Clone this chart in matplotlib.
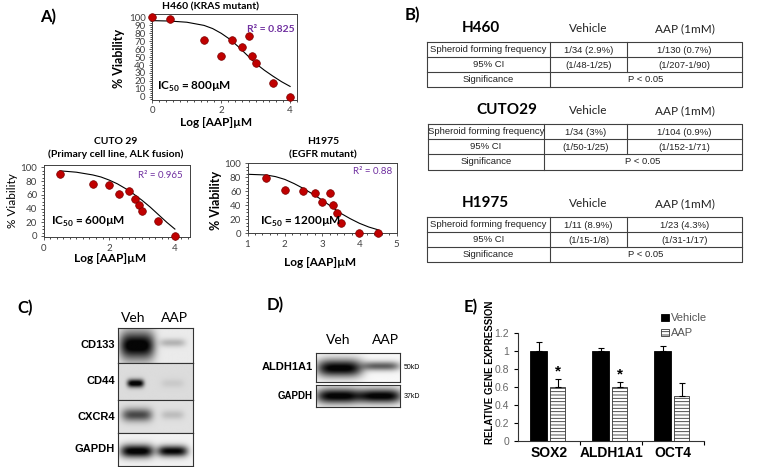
import numpy as np
import matplotlib.pyplot as plt
from matplotlib.ticker import MultipleLocator

plt.rcParams['font.family'] = ['Lato', 'DejaVu Sans']
plt.rcParams['mathtext.fontset'] = 'custom'
plt.rcParams['mathtext.rm'] = 'Lato'
plt.rcParams['mathtext.bf'] = 'Lato:bold'
plt.rcParams['hatch.linewidth'] = 0.6

W, H = 760, 467

# ---- A) dose response data (log[AAP] uM vs % viability)
h460_x = [0, 0.5, 1.5, 2, 2.3, 2.6, 2.8, 2.9, 3, 3.5, 4]
h460_y = [100, 98, 72, 52, 72, 63, 76, 52, 42, 17, 0]
h460_fit_x = [0, 0.5, 1, 1.5, 1.75, 2, 2.25, 2.5, 2.75, 3, 3.25, 3.5, 3.75, 4]
h460_fit_y = [96, 95.5, 94, 90, 86, 80, 72.5, 63, 52.5, 42, 33.5, 26, 19, 13]

cuto_x = [0.5, 1.5, 2, 2.3, 2.6, 2.8, 2.9, 3, 3.5, 4]
cuto_y = [91, 76, 74, 61, 65, 54, 45, 37, 22, 0]
cuto_fit_x = [0.5, 1, 1.5, 1.75, 2, 2.25, 2.5, 2.75, 3, 3.25, 3.5, 3.75, 4]
cuto_fit_y = [95, 93, 89, 86, 81.5, 76, 69, 61, 52, 42, 31, 20, 10]

h1975_x = [1.5, 2, 2.5, 2.8, 3, 3.2, 3.3, 3.4, 3.5, 4, 4.5]
h1975_y = [79, 62, 61, 57, 45, 57, 41, 29, 15, 1, 0]
h1975_fit_x = [1, 1.5, 1.75, 2, 2.25, 2.5, 2.75, 3, 3.25, 3.5, 3.75, 4, 4.25, 4.5]
h1975_fit_y = [84.3, 83.3, 81, 77, 71, 64, 56, 47.6, 38, 28.6, 21, 14.3, 9, 5]

# ---- B) spheroid tables
cell_lines = ["H460", "CUTO29", "H1975"]
vehicle_freq = ["1/34 (2.9%)", "1/34 (3%)", "1/11 (8.9%)"]
aap_freq = ["1/130 (0.7%)", "1/104 (0.9%)", "1/23 (4.3%)"]
vehicle_ci = ["(1/48-1/25)", "(1/50-1/25)", "(1/15-1/8)"]
aap_ci = ["(1/207-1/90)", "(1/152-1/71)", "(1/31-1/17)"]
p_values = ["P < 0.05", "P < 0.05", "P < 0.05"]

# ---- C), D) western blot band intensities (0 = none, 1 = saturated)
c_markers = ["CD133", "CD44", "CXCR4", "GAPDH"]
c_veh = [1.0, 0.95, 0.6, 1.0]
c_aap = [0.22, 0.07, 0.14, 0.95]
d_markers = ["ALDH1A1", "GAPDH"]
d_veh = [1.0, 1.0]
d_aap = [0.6, 1.0]
d_sizes = ["50kD", "37kD"]

# ---- E) qPCR
e_genes = ["SOX2", "ALDH1A1", "OCT4"]
e_vehicle = [1.0, 1.0, 1.0]
e_vehicle_err = [0.1, 0.03, 0.05]
e_aap = [0.6, 0.6, 0.5]
e_aap_err = [0.09, 0.05, 0.14]
e_sig = ["*", "*", ""]


def px_rect(x0, y0, x1, y1):
    return [x0 / W, 1 - y1 / H, (x1 - x0) / W, (y1 - y0) / H]


fig = plt.figure(figsize=(7.6, 4.67), dpi=100)
ov = fig.add_axes([0, 0, 1, 1])
ov.set_xlim(0, W)
ov.set_ylim(H, 0)
ov.axis('off')
ov.set_zorder(10)

# panel letters
for lab, (x, y) in zip(["A)", "B)", "C)", "D)", "E)"],
                       [(48, 17), (412, 15), (25, 308), (275, 305), (471, 307)]):
    ov.text(x, y, lab, fontsize=12, fontweight='bold', ha='center', va='center')


def dose_plot(rect, xs, ys, fx, fy, xlim, ylim, xmaj, ymaj, ymin):
    ax = fig.add_axes(px_rect(*rect))
    ax.plot(fx, fy, color='black', lw=0.8, zorder=2)
    ax.plot(xs, ys, 'o', color='#C00000', mec='#7a0000', mew=0.5, ms=5.5,
            zorder=3, clip_on=False)
    ax.set_xlim(*xlim)
    ax.set_ylim(*ylim)
    ax.xaxis.set_major_locator(MultipleLocator(xmaj))
    ax.yaxis.set_major_locator(MultipleLocator(ymaj))
    ax.xaxis.set_minor_locator(MultipleLocator(0.2))
    ax.yaxis.set_minor_locator(MultipleLocator(ymin))
    ax.tick_params(labelsize=7, colors='#404040', length=2.5, width=0.6, pad=2)
    ax.tick_params(which='minor', length=1.5, width=0.5)
    for s in ax.spines.values():
        s.set_color('#404040')
        s.set_linewidth(0.7)
    return ax


axA1 = dose_plot((151.7, 14.3, 297, 99.9), h460_x, h460_y, h460_fit_x, h460_fit_y,
                 (-0.02, 4.2), (-4, 104), 2, 10, 2.5)
axA1.set_yticks(range(0, 101, 10))
axA2 = dose_plot((43.5, 165, 190, 237.3), cuto_x, cuto_y, cuto_fit_x, cuto_fit_y,
                 (0, 4.46), (-2, 103.5), 2, 20, 5)
axA3 = dose_plot((247.5, 163.3, 396.7, 233.3), h1975_x, h1975_y, h1975_fit_x, h1975_fit_y,
                 (1, 5), (0, 100), 1, 20, 5)

purple = '#7030A0'
ov.text(210, 7, "H460 (KRAS mutant)", fontsize=7.5, fontweight='bold', ha='center', va='center')
ov.text(119, 58, "% Viability", fontsize=9, fontweight='bold', rotation=90, ha='center', va='center')
ov.text(216, 123, "Log [AAP]µM", fontsize=8.5, fontweight='bold', ha='center', va='center')
ov.text(295, 30, "R² = 0.825", fontsize=7.5, fontweight='bold', color=purple, ha='right', va='center')
ov.text(157, 87, r"IC$_{\mathbf{50}}$ = 800µM", fontsize=8.5, fontweight='bold', ha='left', va='center')

ov.text(116, 141, "CUTO 29", fontsize=7.5, fontweight='bold', ha='center', va='center')
ov.text(116, 154, "(Primary cell line, ALK fusion)", fontsize=7.5, fontweight='bold', ha='center', va='center')
ov.text(12, 201, "% Viability", fontsize=8.5, rotation=90, ha='center', va='center')
ov.text(110, 258, "Log [AAP]µM", fontsize=8.5, fontweight='bold', ha='center', va='center')
ov.text(183, 176, "R² = 0.965", fontsize=7, color=purple, ha='right', va='center')
ov.text(51, 222, r"IC$_{\mathbf{50}}$ = 600µM", fontsize=8.5, fontweight='bold', ha='left', va='center')

ov.text(323, 142, "H1975", fontsize=7.5, fontweight='bold', ha='center', va='center')
ov.text(323, 155, "(EGFR mutant)", fontsize=7.5, fontweight='bold', ha='center', va='center')
ov.text(216, 200, "% Viability", fontsize=9, fontweight='bold', rotation=90, ha='center', va='center')
ov.text(320, 262, "Log [AAP]µM", fontsize=8.5, fontweight='bold', ha='center', va='center')
ov.text(392, 172, "R² = 0.88", fontsize=7, color=purple, ha='right', va='center')
ov.text(260, 222, r"IC$_{\mathbf{50}}$ = 1200µM", fontsize=8.5, fontweight='bold', ha='left', va='center')

# ---- B) tables
tab_top = [41.7, 124, 216.7]
tab_left = [427, 428, 427]
tab_split = [550, 544, 550]
tab_title_x = [462, 476, 462]
col2, right, rh = 627.3, 741.7, 15.2
cell_font = dict(fontsize=6.8, family=['Liberation Sans'], color='#222222', ha='center', va='center')
lc = dict(color='#404040', lw=0.8)
for i in range(3):
    t, l, sp = tab_top[i], tab_left[i], tab_split[i]
    b = t + 3 * rh
    ov.text(tab_title_x[i], t - 14, cell_lines[i], fontsize=11, fontweight='bold', ha='left', va='center')
    ov.text(588, t - 13, "Vehicle", fontsize=8.5, ha='center', va='center', color='#222222')
    ov.text(685, t - 13, "AAP (1mM)", fontsize=8.5, ha='center', va='center', color='#222222')
    ov.plot([l, right, right, l, l], [t, t, b, b, t], **lc)
    ov.plot([l, right], [t + rh, t + rh], **lc)
    ov.plot([l, right], [t + 2 * rh, t + 2 * rh], **lc)
    ov.plot([sp, sp], [t, b], **lc)
    ov.plot([col2, col2], [t, t + 2 * rh], **lc)
    rows = [("Spheroid forming frequency", vehicle_freq[i], aap_freq[i]),
            ("95% CI", vehicle_ci[i], aap_ci[i])]
    for r, (a, v, p) in enumerate(rows):
        yc = t + rh * r + rh / 2
        ov.text((l + sp) / 2, yc, a, **cell_font)
        ov.text((sp + col2) / 2, yc + 1, v, **cell_font)
        ov.text((col2 + right) / 2, yc + 1, p, **cell_font)
    yc = t + 2.5 * rh
    ov.text((l + sp) / 2, yc, "Significance", **cell_font)
    ov.text((sp + right) / 2, yc, p_values[i], **cell_font)


# ---- blots
def blot(rect, veh, aap, shape, bg):
    ax = fig.add_axes(px_rect(*rect))
    nx, ny = 200, 80
    xx, yy = np.meshgrid(np.linspace(0, 1, nx), np.linspace(0, 1, ny))
    img = np.full((ny, nx), bg)
    for s, (cx, hw, cy, hh) in zip([veh, aap], shape):
        img -= s * np.exp(-((xx - cx) / hw) ** 4) * np.exp(-((yy - cy) / hh) ** 2)
    ax.imshow(np.clip(img, 0.02, 1), cmap='gray', vmin=0, vmax=1, aspect='auto',
              extent=(0, 1, 1, 0), interpolation='bilinear')
    ax.set_xticks([])
    ax.set_yticks([])
    for s in ax.spines.values():
        s.set_color('#333333')
        s.set_linewidth(0.8)
    return ax


c_rows = [(328, 363), (363, 400), (400, 433), (433, 466)]
c_shape = [[(0.25, 0.23, 0.5, 0.4), (0.72, 0.17, 0.42, 0.12)],
           [(0.23, 0.11, 0.55, 0.11), (0.72, 0.15, 0.55, 0.12)],
           [(0.25, 0.2, 0.45, 0.2), (0.72, 0.15, 0.45, 0.14)],
           [(0.25, 0.22, 0.55, 0.2), (0.72, 0.2, 0.55, 0.17)]]
c_bg = [0.92, 0.86, 0.88, 0.95]
for i, m in enumerate(c_markers):
    y0, y1 = c_rows[i]
    blot((118.3, y0, 193.3, y1), c_veh[i], c_aap[i], c_shape[i], c_bg[i])
    ov.text(115, (y0 + y1) / 2, m, fontsize=8, fontweight='bold', family=['Liberation Sans'],
            ha='right', va='center')
ov.text(133, 318, "Veh", fontsize=10, ha='center', va='center')
ov.text(174, 318, "AAP", fontsize=10, ha='center', va='center')

d_rows = [(353, 382), (385, 407)]
d_shape = [[(0.28, 0.27, 0.52, 0.3), (0.78, 0.22, 0.45, 0.16)],
           [(0.27, 0.27, 0.5, 0.35), (0.77, 0.25, 0.5, 0.33)]]
for i, m in enumerate(d_markers):
    y0, y1 = d_rows[i]
    blot((316, y0, 400, y1), d_veh[i], d_aap[i], d_shape[i], 0.97)
    ov.text(313, (y0 + y1) / 2, m, fontsize=8 if i == 0 else 7, fontweight='bold',
            family=['Liberation Sans'], ha='right', va='center')
    ov.text(404, (y0 + y1) / 2, d_sizes[i], fontsize=5, family=['Liberation Sans'],
            ha='left', va='center')
ov.text(338, 340, "Veh", fontsize=10, ha='center', va='center')
ov.text(385, 340, "AAP", fontsize=10, ha='center', va='center')

# ---- E) qPCR bars
axE = fig.add_axes(px_rect(518.3, 332.7, 704, 440.7))
xpos = np.arange(len(e_genes))
bw = 0.27
b1 = axE.bar(xpos - 0.17, e_vehicle, bw, color='black', edgecolor='black', lw=0.6,
             yerr=[np.zeros(3), e_vehicle_err], capsize=2,
             error_kw=dict(elinewidth=0.8, capthick=0.8), label='Vehicle')
b2 = axE.bar(xpos + 0.14, e_aap, bw * 0.9, color='white', edgecolor='#333333', lw=0.6,
             hatch='-----', yerr=[np.zeros(3), e_aap_err], capsize=2,
             error_kw=dict(elinewidth=0.8, capthick=0.8), label='AAP')
for x, v, e, s in zip(xpos, e_aap, e_aap_err, e_sig):
    if s:
        axE.text(x + 0.14, v + e + 0.005, s, fontsize=11, fontweight='bold',
                 family=['Liberation Sans'], ha='center', va='bottom')
axE.set_xlim(-0.5, 2.5)
axE.set_ylim(0, 1.2)
axE.set_yticks(np.arange(0, 1.21, 0.2))
axE.set_yticklabels(["0", "0.2", "0.4", "0.6", "0.8", "1", "1.2"])
axE.set_xticks([0.5, 1.5, 2.5])
axE.set_xticklabels([])
axE.set_xticks(xpos, minor=True)
axE.set_xticklabels(e_genes, minor=True, fontsize=10, fontweight='bold', family=['Liberation Sans'])
axE.tick_params(axis='x', which='minor', length=0, pad=4)
axE.tick_params(axis='x', which='major', length=3, width=0.8)
axE.tick_params(axis='y', labelsize=7.5, labelcolor='#666666', length=3, width=0.8,
                labelfontfamily='Liberation Sans')
for s in ['top', 'right']:
    axE.spines[s].set_visible(False)
for s in ['left', 'bottom']:
    axE.spines[s].set_color('#333333')
    axE.spines[s].set_linewidth(0.8)
ov.text(490, 372, "RELATIVE GENE EXPRESSION", fontsize=7, fontweight='bold',
        family=['Liberation Sans'], rotation=90, ha='center', va='center')
fig.legend(handles=[b1, b2], loc='upper left', bbox_to_anchor=(657 / W, 1 - 309 / H),
           frameon=False, handlelength=0.7, handleheight=0.7, handletextpad=0.15,
           labelspacing=0.45, borderaxespad=0, prop={'family': 'Liberation Sans', 'size': 8},
           labelcolor='#555555')

fig.savefig("out.png", dpi=100)
